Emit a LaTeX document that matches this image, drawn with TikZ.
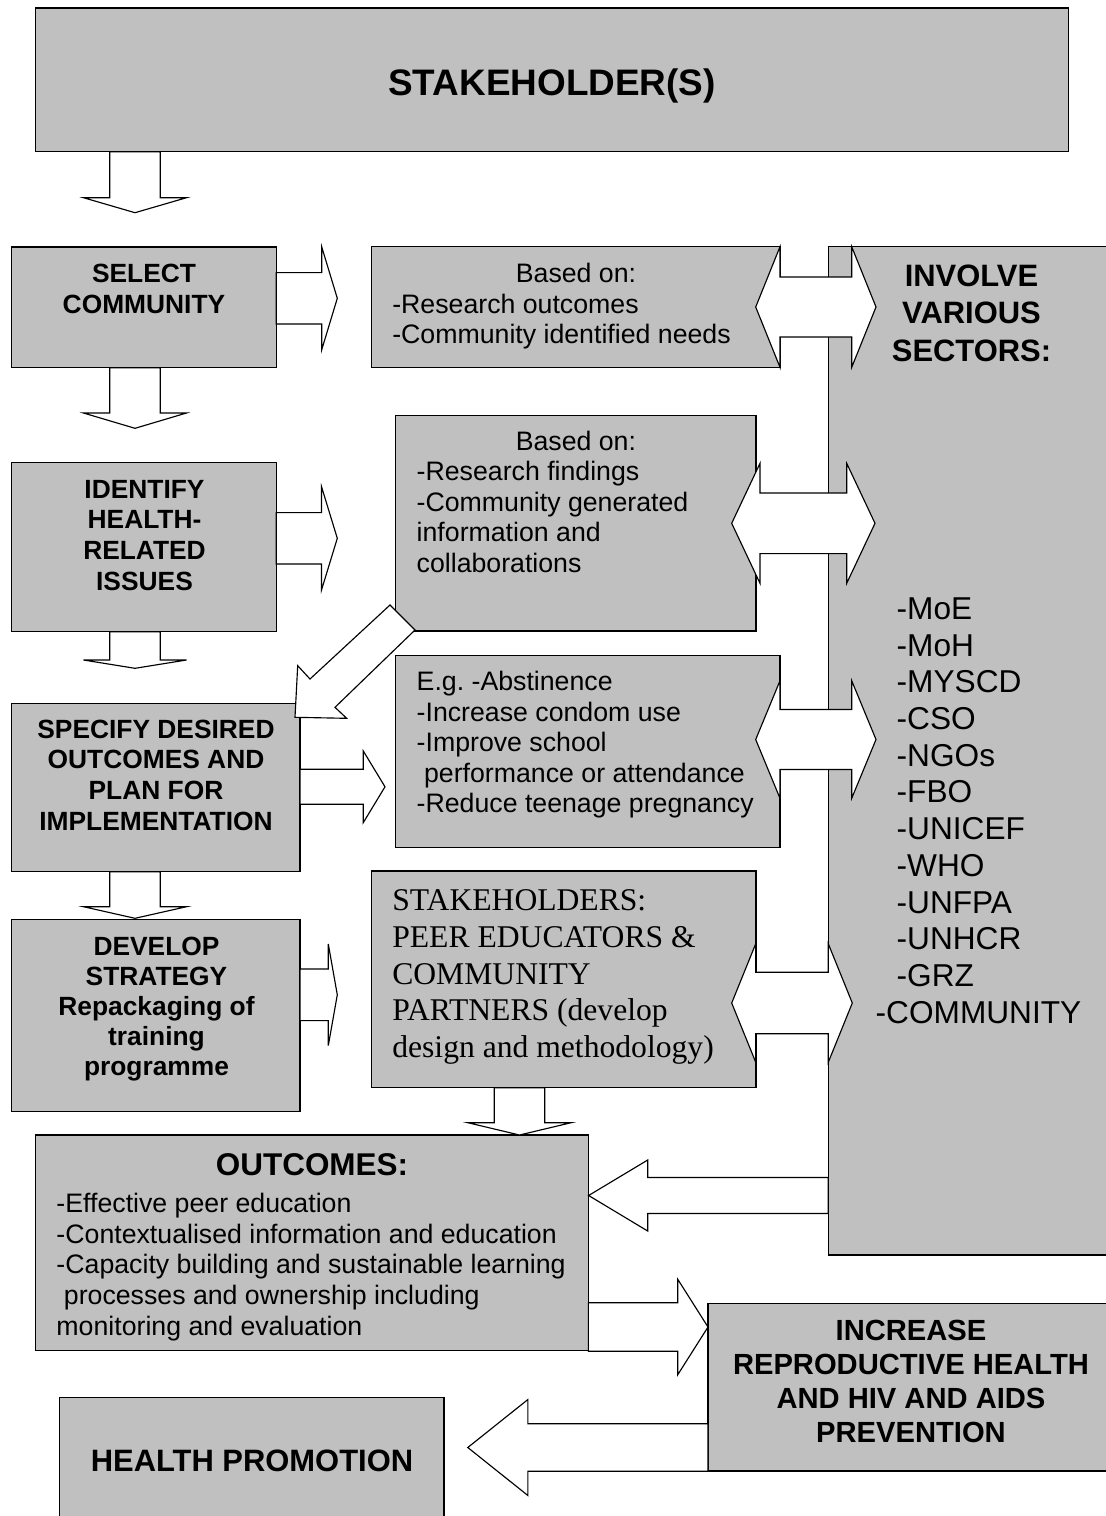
\documentclass[tikz,border=0pt]{standalone}
\usepackage{fontspec}
\setmainfont{Liberation Sans}
\newfontfamily\serifx{Liberation Serif}
\usetikzlibrary{fit}
\definecolor{boxgray}{RGB}{192,192,192}
\tikzset{
  box/.style={draw=black, fill=boxgray, line width=0.75pt, inner sep=0pt, outer sep=0pt},
  barrow/.style={draw=black, fill=white, line width=0.65pt, line join=miter},
  txt/.style={inner sep=0pt, outer sep=0pt, text=black, font=\frenchspacing},
}
% horizontal block arrow: x-start, x-headbase, x-tip, centre y, shaft half, head half
\newcommand{\blkh}[6]{\draw[barrow] (#1,#4-#5) -- (#2,#4-#5) -- (#2,#4-#6) -- (#3,#4) -- (#2,#4+#6) -- (#2,#4+#5) -- (#1,#4+#5) -- cycle;}
% vertical block arrow: centre x, y-start, y-headbase, y-tip, shaft half, head half
\newcommand{\blkv}[6]{\draw[barrow] (#1-#5,#2) -- (#1-#5,#3) -- (#1-#6,#3) -- (#1,#4) -- (#1+#6,#3) -- (#1+#5,#3) -- (#1+#5,#2) -- cycle;}
% double block arrow: left tip, right tip, centre y, shaft half, head half, head length
\newcommand{\blkdd}[6]{\draw[barrow] (#1,#3) -- (#1+#6,#3-#5) -- (#1+#6,#3-#4) -- (#2-#6,#3-#4) -- (#2-#6,#3-#5) -- (#2,#3) -- (#2-#6,#3+#5) -- (#2-#6,#3+#4) -- (#1+#6,#3+#4) -- (#1+#6,#3+#5) -- cycle;}

\begin{document}
\frenchspacing
\begin{tikzpicture}[x=0.02cm, y=-0.02cm]
\useasboundingbox (0,0) rectangle (1106,1516);
\clip (0,0) rectangle (1106,1516);

% ---------- boxes ----------
\node[box, fit={(35.7,8) (1068.5,151.7)}] (top) {};
\node[box, fit={(11.7,247) (276.3,367.7)}] (select) {};
\node[box, fit={(11.7,462.7) (276.3,631.7)}] (identify) {};
\node[box, fit={(11.7,703.3) (300,871.7)}] (specify) {};
\node[box, fit={(11.7,919.3) (300,1111.7)}] (develop) {};
\node[box, fit={(371.7,246.7) (780,367.3)}] (based1) {};
\node[box, fit={(395.7,415.7) (756,631)}] (based2) {};
\node[box, fit={(395.7,655.7) (780,847.3)}] (eg) {};
\node[box, fit={(371.7,871) (756,1087.7)}] (stake) {};
\node[box, fit={(828.3,246.7) (1115,1255)}] (involve) {};
\node[box, fit={(35.6,1135) (588.4,1350.7)}] (outcomes) {};
\node[box, fit={(708,1303.3) (1114,1471)}] (increase) {};
\node[box, fit={(59.3,1397.7) (444,1540)}] (health) {};

% ---------- block arrows ----------
\blkv{135}{151.7}{197.7}{212.7}{25.3}{51.5}
\blkv{135}{367.7}{413}{428.3}{25.3}{51.5}
\blkv{135}{631.7}{660}{668.3}{25.3}{51.5}
\blkv{135}{871.7}{906.7}{918.3}{25.3}{51.5}
\blkv{519.5}{1087.7}{1122.7}{1135}{25.3}{51.6}

\blkh{276.3}{321.7}{337.3}{298.3}{25.7}{51.5}
\blkh{276.3}{321.5}{337.3}{538.3}{25.7}{51.7}
\blkh{300}{363.3}{385}{786.8}{17.5}{35.8}
\blkh{300}{328.3}{337.3}{994.8}{25.8}{50.8}
\blkh{588.4}{677.7}{708}{1327}{24.2}{47.8}
\blkh{828.3}{647.7}{588.6}{1195.5}{18}{35.5}
\blkh{708}{527.9}{467.8}{1447.5}{23.8}{48}

\blkdd{755.7}{876}{307}{30}{60.3}{24.3}
\blkdd{731.7}{875}{523.3}{30.3}{60}{28.3}
\blkdd{755.7}{876}{739.5}{30}{58.8}{24.3}
\blkdd{731.7}{852.3}{1003}{30.7}{59.2}{24}

% diagonal arrow from based2 to specify
\draw[barrow] (390,605) -- (310,679) -- (297.7,665.7) -- (295,717.3) -- (346.7,718.3) -- (335,707.3) -- (415,630) -- cycle;

% ---------- texts ----------
\node[txt, anchor=base] (ttop) at (552,95) {\fontsize{21}{25}\selectfont\bfseries STAKEHOLDER(S)};

\node[txt, anchor=base] (tselect) at (144,282.7) {\parbox[t]{5cm}{\centering\fontsize{15}{17.8}\selectfont\bfseries SELECT\\COMMUNITY}};
\node[txt, anchor=base] (tidentify) at (144.5,498.3) {\parbox[t]{5cm}{\centering\fontsize{15}{17.4}\selectfont\bfseries IDENTIFY\\HEALTH-\\RELATED\\ISSUES}};
\node[txt, anchor=base] (tspecify) at (156,738.3) {\parbox[t]{6cm}{\centering\fontsize{15}{17.4}\selectfont\bfseries SPECIFY DESIRED\\OUTCOMES AND\\PLAN FOR\\IMPLEMENTATION}};
\node[txt, anchor=base] (tdevelop) at (156.5,955) {\parbox[t]{6cm}{\centering\fontsize{15}{17.2}\selectfont\bfseries DEVELOP\\STRATEGY\\Repackaging of\\training\\programme}};

\node[txt, anchor=base west] (tbased1) at (392.3,282.7) {\parbox[t]{7.35cm}{\fontsize{15.2}{17.3}\selectfont\centering Based on:\par\raggedright -Research outcomes\\-Community identified needs}};
\node[txt, anchor=base west] (tbased2) at (416.7,450) {\parbox[t]{6.37cm}{\fontsize{15.2}{17.4}\selectfont\centering Based on:\par\raggedright -Research findings\\-Community generated\\information and\\collaborations}};
\node[txt, anchor=base west] (teg) at (416.7,690.7) {\parbox[t]{7.4cm}{\fontsize{15.2}{17.35}\selectfont\raggedright E.g.\ -Abstinence\\-Increase condom use\\-Improve school\\\hspace*{0.278em}performance or attendance\\-Reduce teenage pregnancy}};
\node[txt, anchor=base west] (tstake) at (392.3,910.7) {\parbox[t]{7.2cm}{\serifx\fontsize{18}{20.9}\selectfont\raggedright STAKEHOLDERS:\\PEER EDUCATORS \&\\COMMUNITY\\PARTNERS (develop\\design and methodology)}};

\node[txt, anchor=base] (tinvolve) at (971.5,286.7) {\parbox[t]{5cm}{\centering\fontsize{17.6}{21.2}\selectfont\bfseries INVOLVE\\VARIOUS\\SECTORS:}};
\node[txt, anchor=base west] (tsectors) at (896.7,619.3) {\parbox[t]{5cm}{\fontsize{18}{20.9}\selectfont\raggedright -MoE\\-MoH\\-MYSCD\\-CSO\\-NGOs\\-FBO\\-UNICEF\\-WHO\\-UNFPA\\-UNHCR\\-GRZ\\\hspace*{-0.42cm}-COMMUNITY}};

\node[txt, anchor=base] (toutt) at (312,1175) {\fontsize{17.9}{21}\selectfont\bfseries OUTCOMES:};
\node[txt, anchor=base west] (toutl) at (56.5,1212.7) {\parbox[t]{10.6cm}{\fontsize{15.2}{17.4}\selectfont\raggedright -Effective peer education\\-Contextualised information and education\\-Capacity building and sustainable learning\\\hspace*{0.278em}processes and ownership including\\monitoring and evaluation}};

\node[txt, anchor=base] (tincrease) at (911,1340.7) {\parbox[t]{8cm}{\centering\fontsize{16.6}{19.3}\selectfont\bfseries INCREASE\\REPRODUCTIVE HEALTH\\AND HIV AND AIDS\\PREVENTION}};
\node[txt, anchor=base] (thealth) at (252,1471.7) {\fontsize{17.6}{21}\selectfont\bfseries HEALTH PROMOTION};
\end{tikzpicture}
\end{document}
